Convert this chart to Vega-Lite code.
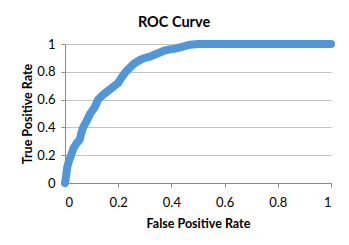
{
  "$schema": "https://vega.github.io/schema/vega-lite/v6.json",
  "width": 266,
  "height": 139,
  "autosize": "none",
  "padding": {"left": 65, "top": 44, "right": 18, "bottom": 62},
  "background": "white",
  "title": {"text": "ROC Curve", "anchor": "middle", "dx": -24, "offset": -3, "baseline": "alphabetic", "font": "Lato", "fontSize": 14.5, "fontWeight": "bold", "color": "#000000"},
  "data": {"values": [
    {"fpr": 0, "tpr": 0},
    {"fpr": 0.004, "tpr": 0.05},
    {"fpr": 0.008, "tpr": 0.11},
    {"fpr": 0.015, "tpr": 0.16},
    {"fpr": 0.023, "tpr": 0.2},
    {"fpr": 0.032, "tpr": 0.25},
    {"fpr": 0.045, "tpr": 0.29},
    {"fpr": 0.055, "tpr": 0.31},
    {"fpr": 0.06, "tpr": 0.35},
    {"fpr": 0.068, "tpr": 0.4},
    {"fpr": 0.08, "tpr": 0.44},
    {"fpr": 0.095, "tpr": 0.5},
    {"fpr": 0.11, "tpr": 0.54},
    {"fpr": 0.125, "tpr": 0.6},
    {"fpr": 0.14, "tpr": 0.63},
    {"fpr": 0.16, "tpr": 0.66},
    {"fpr": 0.18, "tpr": 0.69},
    {"fpr": 0.2, "tpr": 0.72},
    {"fpr": 0.213, "tpr": 0.76},
    {"fpr": 0.228, "tpr": 0.8},
    {"fpr": 0.244, "tpr": 0.83},
    {"fpr": 0.26, "tpr": 0.86},
    {"fpr": 0.282, "tpr": 0.885},
    {"fpr": 0.3, "tpr": 0.9},
    {"fpr": 0.32, "tpr": 0.91},
    {"fpr": 0.345, "tpr": 0.93},
    {"fpr": 0.37, "tpr": 0.95},
    {"fpr": 0.39, "tpr": 0.96},
    {"fpr": 0.41, "tpr": 0.965},
    {"fpr": 0.44, "tpr": 0.98},
    {"fpr": 0.47, "tpr": 0.995},
    {"fpr": 0.5, "tpr": 1},
    {"fpr": 0.6, "tpr": 1},
    {"fpr": 0.8, "tpr": 1},
    {"fpr": 1, "tpr": 1}
  ]},
  "mark": {"type": "line", "color": "#5196d8", "strokeWidth": 8, "strokeCap": "round", "strokeJoin": "round", "clip": false},
  "encoding": {
    "x": {"field": "fpr", "type": "quantitative", "scale": {"domain": [0, 1], "nice": false},
      "axis": {"title": "False Positive Rate", "values": [0, 0.2, 0.4, 0.6, 0.8, 1], "format": "~g", "grid": false, "tickSize": 4, "labelPadding": 9, "titlePadding": 8}},
    "y": {"field": "tpr", "type": "quantitative", "scale": {"domain": [0, 1], "nice": false},
      "axis": {"title": "True Positive Rate", "values": [0, 0.2, 0.4, 0.6, 0.8, 1], "format": "~g", "grid": true, "tickSize": 4, "labelPadding": 6, "titlePadding": 2}}
  },
  "config": {
    "view": {"stroke": null},
    "axis": {
      "labelFont": "Lato", "labelFontSize": 13, "labelColor": "#000000",
      "titleFont": "Lato", "titleFontSize": 12.5, "titleFontWeight": "bold", "titleColor": "#000000",
      "domainColor": "#8c8c8c", "tickColor": "#8c8c8c", "gridColor": "#c4c4c4", "domainWidth": 1, "tickWidth": 1, "gridWidth": 1
    }
  }
}
